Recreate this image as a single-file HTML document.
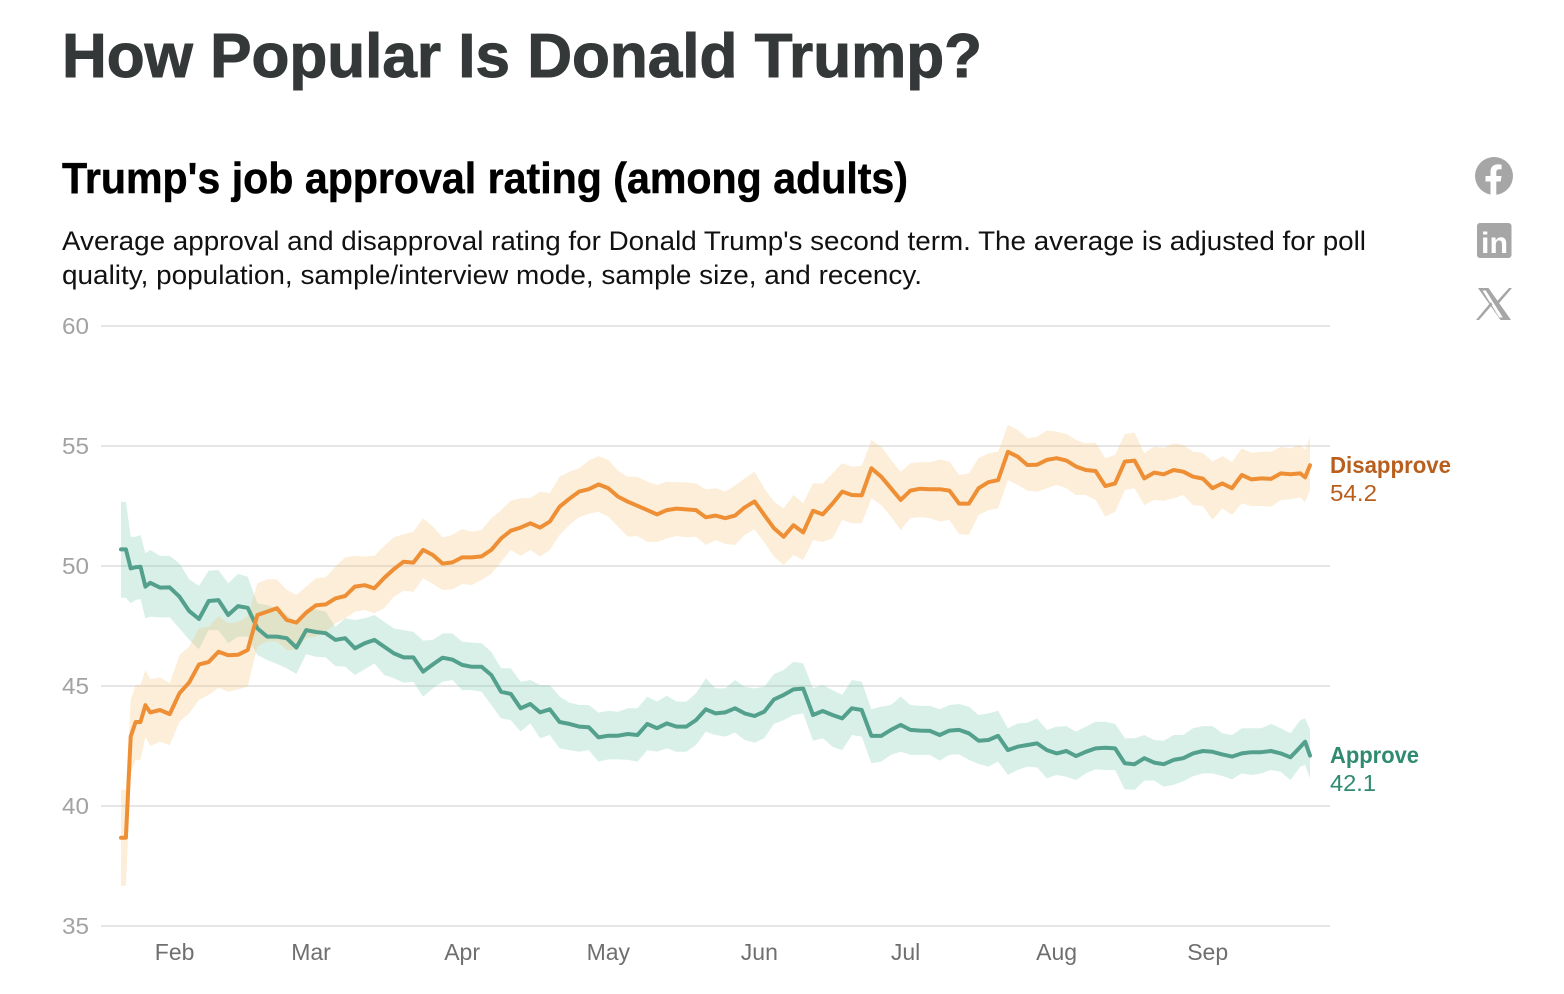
<!DOCTYPE html>
<html lang="en">
<head>
<meta charset="utf-8">
<title>How Popular Is Donald Trump?</title>
<style>
html,body{margin:0;padding:0;background:#fff;width:1564px;height:994px;overflow:hidden}
svg{display:block}
text{font-family:"Liberation Sans",sans-serif}
</style>
</head>
<body>
<svg id="chart" xmlns="http://www.w3.org/2000/svg" width="1564" height="994" viewBox="0 0 1564 994">
  <text x="62" y="77" font-size="62" font-weight="700" fill="#353838" stroke="#353838" stroke-width="1" textLength="920" lengthAdjust="spacingAndGlyphs">How Popular Is Donald Trump?</text>
  <text x="62" y="193" font-size="44" font-weight="700" fill="#000" stroke="#000" stroke-width="0.5" textLength="846" lengthAdjust="spacingAndGlyphs">Trump's job approval rating (among adults)</text>
  <text x="62" y="250" font-size="27" fill="#111" textLength="1304" lengthAdjust="spacingAndGlyphs">Average approval and disapproval rating for Donald Trump's second term. The average is adjusted for poll</text>
  <text x="62" y="284" font-size="27" fill="#111" textLength="860" lengthAdjust="spacingAndGlyphs">quality, population, sample/interview mode, sample size, and recency.</text>

  <g>
    <circle cx="1494" cy="176" r="19" fill="#a6a6a6"/>
    <path d="M1490.5 195v-13.5h-5v-5.500h5v-4.200c0-4.800 2.900-7.400 7.200-7.400 2 0 3.900.3 3.900.3v4.600h-2.300c-2.300 0-3 1.400-3 2.900V176h5.200l-.8 5.500h-4.400V195z" fill="#fff"/>
  </g>
  <g>
    <rect x="1477" y="223" width="34.5" height="35" rx="3" fill="#a6a6a6"/>
    <text x="1481" y="253" font-size="30" font-weight="700" fill="#fff" textLength="27" lengthAdjust="spacingAndGlyphs">in</text>
  </g>
  <g>
    <path d="M1478 288h10.500l22.500 32h-10.500zM1482.500 290.500l16.800 27h3.500l-17-27z" fill="#a6a6a6" fill-rule="evenodd"/>
    <path d="M1509 288l-13 14.500 1.700 2.300 14.300-16.800zM1479 320l13.500-15.500-1.700-2.300-14.800 17.800z" fill="#a6a6a6"/>
  </g>

  <g id="grid"></g>
  <g id="yticks"></g>
  <g id="xticks"></g>
  <g id="bands"></g>
  <g id="lines"></g>

  <text x="1330" y="473" font-size="23" font-weight="700" fill="#b85f1e" textLength="121" lengthAdjust="spacingAndGlyphs">Disapprove</text>
  <text x="1330" y="501" font-size="23" fill="#b85f1e" textLength="47" lengthAdjust="spacingAndGlyphs">54.2</text>
  <text x="1330" y="763" font-size="23" font-weight="700" fill="#2f8a70" textLength="89" lengthAdjust="spacingAndGlyphs">Approve</text>
  <text x="1330" y="791" font-size="23" fill="#2f8a70" textLength="46" lengthAdjust="spacingAndGlyphs">42.1</text>
</svg>

<script>
const yTicks = [35, 40, 45, 50, 55, 60];
const monthLabels = ["Feb", "Mar", "Apr", "May", "Jun", "Jul", "Aug", "Sep"];
const monthDays = [11, 39, 70, 100, 131, 161, 192, 223];

const days = [0,1,2,3,4,5,6,
8,10,12,14,16,18,20,22,24,26,
28,30,32,34,36,38,40,42,44,46,
48,50,52,54,56,58,60,62,64,66,
68,70,72,74,76,78,80,82,84,86,
88,90,92,94,96,98,100,102,104,106,
108,110,112,114,116,118,120,122,124,126,
128,130,132,134,136,138,140,142,144,146,
148,150,152,154,156,158,160,162,164,166,
168,170,172,174,176,178,180,182,184,186,
188,190,192,194,196,198,200,202,204,206,
208,210,212,214,216,218,220,222,224,226,
228,230,232,234,236,238,240,242,243,244];

const disapprove = [38.68,38.68,42.89,43.5,43.5,44.2,43.9,
44.0,43.83,44.7,45.15,45.9,46.0,46.43,46.28,46.3,46.5,
47.96,48.1,48.24,47.75,47.64,48.06,48.36,48.4,48.65,48.75,
49.14,49.2,49.07,49.5,49.87,50.18,50.14,50.67,50.46,50.1,
50.15,50.36,50.36,50.4,50.67,51.15,51.47,51.6,51.78,51.6,
51.85,52.47,52.8,53.1,53.2,53.4,53.24,52.89,52.68,52.51,
52.33,52.15,52.33,52.39,52.36,52.33,52.03,52.1,51.99,52.1,
52.44,52.69,52.13,51.57,51.22,51.7,51.4,52.3,52.15,52.6,
53.1,52.96,52.94,54.07,53.72,53.24,52.75,53.14,53.22,53.2,
53.2,53.14,52.6,52.6,53.24,53.49,53.58,54.76,54.56,54.21,
54.22,54.42,54.49,54.39,54.14,54.0,53.96,53.33,53.44,54.35,
54.39,53.65,53.89,53.82,54.0,53.93,53.72,53.64,53.24,53.44,
53.24,53.79,53.61,53.65,53.63,53.86,53.82,53.86,53.69,54.2];

const disapproveHigh = [40.67,40.67,44.42,45.04,45.04,45.67,45.28,
45.36,45.11,46.29,46.64,47.4,47.47,47.92,47.61,47.68,47.89,
49.28,49.44,49.44,49.0,48.79,49.14,49.49,49.53,49.97,50.36,
50.42,50.39,50.43,50.83,51.19,51.32,51.43,51.99,51.64,51.19,
51.29,51.54,51.43,51.5,51.99,52.33,52.72,52.82,52.82,53.1,
53.03,53.72,53.93,54.07,54.39,54.58,54.42,53.97,53.72,53.72,
53.51,53.38,53.51,53.49,53.49,53.44,53.19,53.24,53.1,53.35,
53.65,53.93,53.24,52.68,52.4,52.96,52.61,53.44,53.44,53.86,
54.28,54.14,54.17,55.25,54.97,54.42,53.93,54.28,54.32,54.32,
54.44,54.35,53.79,53.86,54.49,54.69,54.76,55.88,55.67,55.32,
55.39,55.64,55.6,55.5,55.25,55.11,55.14,54.49,54.63,55.5,
55.56,54.69,54.97,54.93,55.11,55.04,54.76,54.72,54.35,54.58,
54.33,54.9,54.72,54.76,54.76,54.97,54.9,55.04,54.83,55.36];

const disapproveLow = [36.68,36.68,41.36,41.92,41.92,42.89,42.5,
42.68,42.54,43.51,43.86,44.42,44.63,44.93,44.76,44.86,44.97,
46.64,46.85,46.85,46.5,46.5,46.99,47.06,47.26,47.61,47.82,
48.1,48.17,48.03,48.24,48.72,48.97,48.93,49.49,49.25,49.0,
49.03,49.25,49.21,49.42,49.67,50.18,50.67,50.42,50.67,50.39,
50.67,51.29,51.71,52.03,52.17,52.26,52.06,51.64,51.22,51.25,
51.01,51.0,51.15,51.25,51.19,51.22,50.88,51.08,50.92,50.88,
51.29,51.53,50.99,50.39,50.04,50.46,50.25,51.08,51.01,51.15,
51.92,51.78,51.78,52.82,52.54,52.06,51.5,52.0,52.03,52.0,
51.85,51.92,51.33,51.29,52.13,52.33,52.4,53.58,53.38,53.14,
53.1,53.24,53.38,53.24,52.96,52.96,52.75,52.06,52.26,53.17,
53.24,52.54,52.75,52.72,52.82,52.96,52.54,52.5,51.92,52.4,
52.13,52.61,52.5,52.5,52.47,52.75,52.78,52.86,52.64,53.17];

const approve = [50.69,50.69,49.9,49.95,49.97,49.14,49.3,
49.1,49.11,48.72,48.12,47.79,48.54,48.58,47.96,48.33,48.26,
47.4,47.06,47.06,46.99,46.6,47.33,47.25,47.2,46.92,46.99,
46.57,46.78,46.92,46.64,46.36,46.19,46.19,45.6,45.9,46.18,
46.1,45.88,45.8,45.8,45.46,44.76,44.67,44.07,44.25,43.9,
44.03,43.5,43.42,43.31,43.28,42.86,42.93,42.93,43.0,42.96,
43.42,43.24,43.44,43.31,43.31,43.58,44.03,43.86,43.9,44.07,
43.86,43.75,43.93,44.44,44.63,44.86,44.89,43.79,43.96,43.79,
43.65,44.07,44.0,42.92,42.92,43.17,43.38,43.17,43.14,43.13,
42.96,43.14,43.17,43.03,42.72,42.75,42.92,42.33,42.47,42.54,
42.61,42.33,42.19,42.29,42.08,42.26,42.4,42.43,42.4,41.78,
41.74,41.99,41.81,41.74,41.92,41.99,42.19,42.29,42.26,42.15,
42.06,42.19,42.24,42.24,42.29,42.19,42.03,42.46,42.68,42.1];

const approveHigh = [52.68,52.68,51.22,51.22,51.29,50.53,50.67,
50.42,50.42,50.11,49.44,49.17,49.81,49.83,49.28,49.67,49.56,
48.44,48.37,48.24,47.96,47.68,48.17,48.19,48.1,47.47,47.82,
47.75,47.82,47.96,47.68,47.4,47.33,47.26,46.89,46.92,47.19,
47.19,46.85,46.81,46.78,46.43,45.74,45.74,45.18,45.25,45.04,
45.04,44.56,44.31,44.21,44.21,43.89,43.97,43.93,44.07,44.07,
44.56,44.35,44.6,44.35,44.35,44.69,45.32,44.9,44.9,45.25,
44.97,44.9,44.97,45.5,45.67,46.01,45.94,44.9,45.04,44.83,
44.63,45.25,45.18,44.03,44.14,44.21,44.56,44.21,44.17,44.17,
44.03,44.21,44.25,44.14,43.79,43.86,43.97,43.24,43.44,43.47,
43.65,43.17,43.31,43.33,43.1,43.31,43.51,43.51,43.42,42.82,
42.82,42.96,42.75,42.72,42.96,42.96,43.24,43.33,43.33,43.03,
42.96,43.24,43.24,43.24,43.42,43.24,43.03,43.58,43.65,43.17];

const approveLow = [48.68,48.68,48.44,48.58,48.63,47.82,47.89,
47.86,47.86,47.4,46.92,46.53,47.33,47.33,46.78,47.06,47.06,
46.29,46.08,45.92,45.74,45.5,46.33,46.22,46.19,45.83,45.81,
45.46,45.69,45.94,45.46,45.32,45.14,45.18,44.56,44.9,45.18,
45.25,44.83,44.83,44.76,44.21,43.65,43.58,43.1,43.44,42.82,
42.96,42.4,42.33,42.26,42.33,41.85,41.94,41.94,41.92,41.85,
42.33,42.26,42.4,42.26,42.26,42.54,43.1,42.96,42.89,43.06,
42.75,42.64,42.82,43.42,43.58,43.79,43.86,42.72,42.82,42.47,
42.33,42.96,42.89,41.78,41.85,42.13,42.26,42.13,42.13,42.13,
41.89,42.13,42.15,41.92,41.75,41.64,41.85,41.29,41.5,41.64,
41.61,41.15,41.29,41.22,41.08,41.36,41.53,41.5,41.5,40.69,
40.67,41.06,41.06,40.81,40.88,41.03,41.24,41.36,41.36,41.25,
41.11,41.36,41.29,41.36,41.5,41.43,41.08,41.64,41.71,41.15];

const NS = "http://www.w3.org/2000/svg";
const xScale = d => 121 + d * (1189 / 244);
const yScale = v => 926 - (v - 35) * 24;

function make(parent, tag, attrs, content) {
  const el = document.createElementNS(NS, tag);
  Object.keys(attrs).forEach(k => el.setAttribute(k, attrs[k]));
  if (content !== undefined) el.textContent = content;
  document.getElementById(parent).appendChild(el);
  return el;
}

yTicks.forEach(t => {
  const line = make("grid", "line", {x1: 101, x2: 1330, y1: yScale(t), y2: yScale(t), stroke: "#e6e6e6", "stroke-width": 2});
  
  
  const label = make("yticks", "text", {x: 62, y: yScale(t) + 8, "font-size": 23, fill: "#a3a3a3", textLength: 27, lengthAdjust: "spacingAndGlyphs"}, String(t));
  
  
});

monthLabels.forEach((m, i) => {
  const label = make("xticks", "text", {x: xScale(monthDays[i]), y: 960, "font-size": 23, fill: "#6f6f6f", "text-anchor": "middle"}, m);
  
  
});

function bandPath(high, low) {
  const top = days.map((d, i) => xScale(d).toFixed(1) + "," + yScale(high[i]).toFixed(1));
  const bottom = days.map((d, i) => xScale(d).toFixed(1) + "," + yScale(low[i]).toFixed(1)).reverse();
  return "M" + top.concat(bottom).join("L") + "Z";
}
function linePath(values) {
  return "M" + days.map((d, i) => xScale(d).toFixed(1) + "," + yScale(values[i]).toFixed(1)).join("L");
}

const approveBand = make("bands", "path", {d: bandPath(approveHigh, approveLow), fill: "#80cdb6", "fill-opacity": 0.3});


const disapproveBand = make("bands", "path", {d: bandPath(disapproveHigh, disapproveLow), fill: "#f5c77e", "fill-opacity": 0.3});


const approveLine = make("lines", "path", {d: linePath(approve), fill: "none", stroke: "#53a08c", "stroke-width": 4, "stroke-linejoin": "round", "stroke-linecap": "round"});


const disapproveLine = make("lines", "path", {d: linePath(disapprove), fill: "none", stroke: "#ee8f35", "stroke-width": 4, "stroke-linejoin": "round", "stroke-linecap": "round"});


</script>
</body>
</html>
